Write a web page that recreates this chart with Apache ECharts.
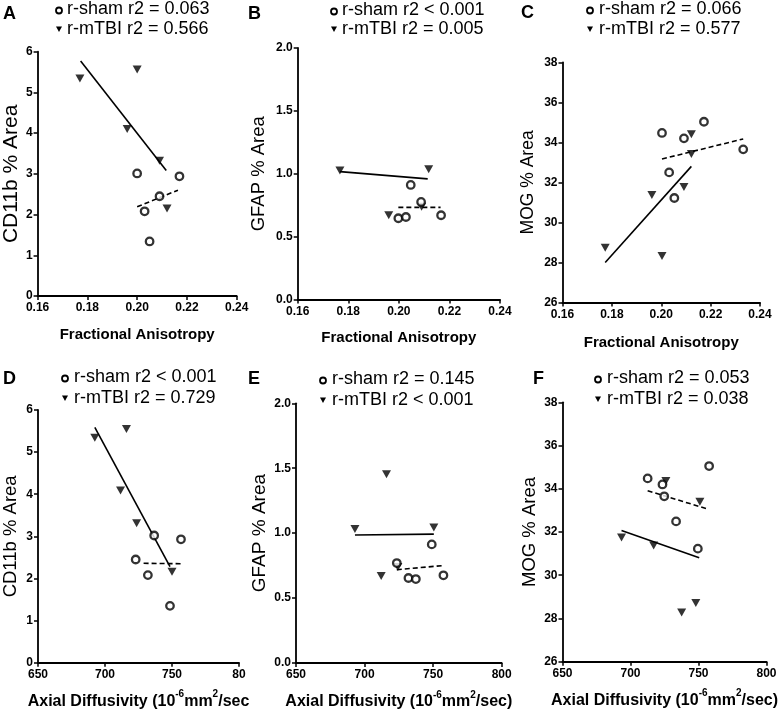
<!DOCTYPE html>
<html>
<head>
<meta charset="utf-8">
<script src="https://cdn.jsdelivr.net/npm/echarts@6/dist/echarts.min.js"></script>
<style>
html,body{margin:0;padding:0;background:#fff;}
#chart{width:780px;height:713px;}
</style>
</head>
<body>
<div id="chart"></div>
<script>
// ---------- tick labels ----------
const faTicks = ['0.16', '0.18', '0.20', '0.22', '0.24'];
const adTicks = ['650', '700', '750', '800'];
const adTicksD = ['650', '700', '750', '80'];
const cd11bTicks = ['0', '1', '2', '3', '4', '5', '6'];
const gfapTicks = ['0.0', '0.5', '1.0', '1.5', '2.0'];
const mogTicks = ['26', '28', '30', '32', '34', '36', '38'];

// ---------- panel texts ----------
const panelLetters = ['A', 'B', 'C', 'D', 'E', 'F'];
const shamLegend = ['r-sham r2 = 0.063', 'r-sham r2 < 0.001', 'r-sham r2 = 0.066', 'r-sham r2 < 0.001', 'r-sham r2 = 0.145', 'r-sham r2 = 0.053'];
const tbiLegend = ['r-mTBI r2 = 0.566', 'r-mTBI r2 = 0.005', 'r-mTBI r2 = 0.577', 'r-mTBI r2 = 0.729', 'r-mTBI r2 < 0.001', 'r-mTBI r2 = 0.038'];
const yNames = ['CD11b % Area', 'GFAP % Area', 'MOG % Area', 'CD11b % Area', 'GFAP % Area', 'MOG % Area'];

// ---------- data: A (FA vs CD11b) ----------
const shamFA_A = [0.200, 0.217, 0.209, 0.203, 0.205];
const shamCD11b_A = [3.01, 2.94, 2.45, 2.08, 1.34];
const tbiFA_A = [0.177, 0.200, 0.196, 0.209, 0.212];
const tbiCD11b_A = [5.34, 5.56, 4.10, 3.32, 2.15];
const tbiFitX_A = [0.1773, 0.2117];
const tbiFitY_A = [5.77, 3.08];
const shamFitX_A = [0.200, 0.2164];
const shamFitY_A = [2.19, 2.60];

// ---------- data: B (FA vs GFAP) ----------
const shamFA_B = [0.2047, 0.2088, 0.1998, 0.2028, 0.2167];
const shamGFAP_B = [0.911, 0.776, 0.646, 0.656, 0.670];
const tbiFA_B = [0.1767, 0.2118, 0.196, 0.209];
const tbiGFAP_B = [1.025, 1.036, 0.670, 0.738];
const tbiFitX_B = [0.1767, 0.2114];
const tbiFitY_B = [1.017, 0.959];
const shamFitX_B = [0.1998, 0.2165];
const shamFitY_B = [0.733, 0.733];

// ---------- data: C (FA vs MOG) ----------
const shamFA_C = [0.2003, 0.2092, 0.2173, 0.2332, 0.2032, 0.2053];
const shamMOG_C = [34.47, 34.20, 35.03, 33.65, 32.50, 31.22];
const tbiFA_C = [0.1773, 0.1962, 0.2003, 0.2092, 0.2122, 0.2122];
const tbiMOG_C = [28.73, 31.37, 28.32, 31.77, 34.40, 33.42];
const tbiFitX_C = [0.1773, 0.2122];
const tbiFitY_C = [28.00, 32.80];
const shamFitX_C = [0.2003, 0.2332];
const shamFitY_C = [33.17, 34.17];

// ---------- data: D (AD vs CD11b) ----------
const shamAD_D = [736.7, 756.7, 722.9, 732.0, 748.5];
const shamCD11b_D = [3.02, 2.93, 2.45, 2.08, 1.35];
const tbiAD_D = [692.4, 716.0, 711.6, 723.6, 750.0];
const tbiCD11b_D = [5.34, 5.55, 4.09, 3.31, 2.16];
const tbiFitX_D = [692.4, 748.5];
const tbiFitY_D = [5.59, 2.28];
const shamFitX_D = [728.8, 756.4];
const shamFitY_D = [2.36, 2.35];

// ---------- data: E (AD vs GFAP) ----------
const shamAD_E = [749.0, 723.5, 732.0, 737.4, 757.5];
const shamGFAP_E = [0.913, 0.769, 0.654, 0.646, 0.675];
const tbiAD_E = [693.0, 716.0, 750.5, 712.1, 724.3];
const tbiGFAP_E = [1.031, 1.454, 1.044, 0.669, 0.738];
const tbiFitX_E = [693.0, 750.5];
const tbiFitY_E = [0.985, 0.992];
const shamFitX_E = [723.5, 756.3];
const shamFitY_E = [0.718, 0.749];

// ---------- data: F (AD vs MOG) ----------
const shamAD_F = [712.6, 723.5, 724.8, 757.8, 733.5, 749.5];
const shamMOG_F = [34.48, 34.20, 33.65, 35.05, 32.49, 31.23];
const tbiAD_F = [693.4, 717.0, 726.0, 751.0, 737.6, 748.0];
const tbiMOG_F = [31.75, 31.38, 34.36, 33.40, 28.28, 28.71];
const tbiFitX_F = [693.4, 750.5];
const tbiFitY_F = [32.07, 30.81];
const shamFitX_F = [712.6, 755.8];
const shamFitY_F = [33.91, 33.08];

// ---------- layout ----------
const FONT = "'Liberation Sans', Arial, Helvetica, sans-serif";
const zip = (xs, ys) => xs.map((x, i) => [x, ys[i]]);

const panels = [
  { grid: { left: 36.7, top: 51.7, width: 200, height: 244.3 },
    x: { min: 0.16, max: 0.24, interval: 0.02, ticks: faTicks, name: 'fa', gap: 31 },
    y: { min: 0, max: 6, interval: 1, ticks: cd11bTicks, gap: 15, fs: 21 },
    sham: zip(shamFA_A, shamCD11b_A), tbi: zip(tbiFA_A, tbiCD11b_A),
    shamFit: zip(shamFitX_A, shamFitY_A), tbiFit: zip(tbiFitX_A, tbiFitY_A),
    letter: [3, 5], leg: { mx: 59, tx: 67, y1: 9, y2: 29 } },
  { grid: { left: 297.7, top: 48, width: 202.3, height: 251.5 },
    x: { min: 0.16, max: 0.24, interval: 0.02, ticks: faTicks, name: 'fa', gap: 31 },
    y: { min: 0, max: 2, interval: 0.5, ticks: gfapTicks, gap: 29, fs: 18.5 },
    sham: zip(shamFA_B, shamGFAP_B), tbi: zip(tbiFA_B, tbiGFAP_B),
    shamFit: zip(shamFitX_B, shamFitY_B), tbiFit: zip(tbiFitX_B, tbiFitY_B),
    letter: [248, 5], leg: { mx: 334, tx: 342, y1: 10, y2: 29 } },
  { grid: { left: 562.5, top: 62.3, width: 197.5, height: 240.2 },
    x: { min: 0.16, max: 0.24, interval: 0.02, ticks: faTicks, name: 'fa', gap: 33 },
    y: { min: 26, max: 38, interval: 2, ticks: mogTicks, gap: 25, fs: 17.5 },
    sham: zip(shamFA_C, shamMOG_C), tbi: zip(tbiFA_C, tbiMOG_C),
    shamFit: zip(shamFitX_C, shamFitY_C), tbiFit: zip(tbiFitX_C, tbiFitY_C),
    letter: [521, 4], leg: { mx: 590, tx: 599, y1: 9, y2: 29 } },
  { grid: { left: 36.5, top: 410, width: 202.5, height: 252.7 },
    x: { min: 650, max: 800, interval: 50, ticks: adTicksD, name: 'adD', gap: 27 },
    y: { min: 0, max: 6, interval: 1, ticks: cd11bTicks, gap: 18, fs: 18.5 },
    sham: zip(shamAD_D, shamCD11b_D), tbi: zip(tbiAD_D, tbiCD11b_D),
    shamFit: zip(shamFitX_D, shamFitY_D), tbiFit: zip(tbiFitX_D, tbiFitY_D),
    letter: [3, 370], leg: { mx: 65, tx: 74, y1: 377, y2: 398 } },
  { grid: { left: 296, top: 403.3, width: 205.7, height: 259.6 },
    x: { min: 650, max: 800, interval: 50, ticks: adTicks, name: 'ad', gap: 27 },
    y: { min: 0, max: 2, interval: 0.5, ticks: gfapTicks, gap: 27, fs: 19 },
    sham: zip(shamAD_E, shamGFAP_E), tbi: zip(tbiAD_E, tbiGFAP_E),
    shamFit: zip(shamFitX_E, shamFitY_E), tbiFit: zip(tbiFitX_E, tbiFitY_E),
    letter: [248, 370], leg: { mx: 323, tx: 332, y1: 379, y2: 400 } },
  { grid: { left: 562.5, top: 402.3, width: 206.5, height: 259.4 },
    x: { min: 650, max: 800, interval: 50, ticks: adTicks, name: 'ad', gap: 27 },
    y: { min: 26, max: 38, interval: 2, ticks: mogTicks, gap: 23, fs: 18.5 },
    sham: zip(shamAD_F, shamMOG_F), tbi: zip(tbiAD_F, tbiMOG_F),
    shamFit: zip(shamFitX_F, shamFitY_F), tbiFit: zip(tbiFitX_F, tbiFitY_F),
    letter: [533, 370], leg: { mx: 598, tx: 607, y1: 378, y2: 399 } }
];

const rich = {
  a: { fontFamily: FONT, fontWeight: 'bold', fontSize: 16, lineHeight: 20, color: '#000', verticalAlign: 'bottom' },
  s: { fontFamily: FONT, fontWeight: 'bold', fontSize: 10, lineHeight: 12, color: '#000', verticalAlign: 'top' }
};
const xNameText = {
  fa: 'Fractional Anisotropy',
  ad: '{a|Axial Diffusivity (10}{s|-6}{a|mm}{s|2}{a|/sec)}',
  adD: '{a|Axial Diffusivity (10}{s|-6}{a|mm}{s|2}{a|/sec}'
};

const axisLineStyle = { color: '#000', width: 1.8 };
const grids = [], xAxes = [], yAxes = [], series = [], graphics = [];

panels.forEach((p, i) => {
  grids.push(Object.assign({ containLabel: false }, p.grid));
  const xt = p.x.ticks, yt = p.y.ticks;
  xAxes.push({
    type: 'value', gridIndex: i, min: p.x.min, max: p.x.max, interval: p.x.interval,
    axisLine: { show: true, lineStyle: axisLineStyle },
    axisTick: { show: true, length: 4, lineStyle: { color: '#000', width: 1.5 } },
    splitLine: { show: false },
    axisLabel: { color: '#000', fontFamily: FONT, fontWeight: 'bold', fontSize: 12, margin: 6,
      formatter: v => xt[Math.round((v - p.x.min) / p.x.interval)] },
    name: xNameText[p.x.name], nameLocation: 'middle', nameGap: p.x.gap,
    nameTextStyle: p.x.name === 'fa'
      ? { fontFamily: FONT, fontWeight: 'bold', fontSize: 15, color: '#000' }
      : { rich: rich }
  });
  yAxes.push({
    type: 'value', gridIndex: i, min: p.y.min, max: p.y.max, interval: p.y.interval,
    axisLine: { show: true, lineStyle: axisLineStyle },
    axisTick: { show: true, length: 4, lineStyle: { color: '#000', width: 1.5 } },
    splitLine: { show: false },
    axisLabel: { color: '#000', fontFamily: FONT, fontWeight: 'bold', fontSize: 12, margin: 5,
      formatter: v => yt[Math.round((v - p.y.min) / p.y.interval)] },
    name: yNames[i], nameLocation: 'middle', nameGap: p.y.gap, nameRotate: 90,
    nameTextStyle: { fontFamily: FONT, fontSize: p.y.fs, color: '#000' }
  });
  series.push({
    type: 'line', xAxisIndex: i, yAxisIndex: i, data: p.tbiFit, symbol: 'none',
    lineStyle: { color: '#000', width: 1.6 }, silent: true, z: 2
  });
  series.push({
    type: 'line', xAxisIndex: i, yAxisIndex: i, data: p.shamFit, symbol: 'none',
    lineStyle: { color: '#000', width: 1.6, type: [5, 3] }, silent: true, z: 2
  });
  series.push({
    type: 'scatter', xAxisIndex: i, yAxisIndex: i, data: p.tbi, symbol: 'triangle',
    symbolRotate: 180, symbolSize: [9, 8], itemStyle: { color: '#000' }, z: 3
  });
  series.push({
    type: 'scatter', xAxisIndex: i, yAxisIndex: i, data: p.sham, symbol: 'circle',
    symbolSize: 7.5, itemStyle: { color: '#fff', borderColor: '#000', borderWidth: 2.3 }, z: 4
  });
  // panel letter
  graphics.push({ type: 'text', left: p.letter[0], top: p.letter[1],
    style: { text: panelLetters[i], fontFamily: FONT, fontWeight: 'bold', fontSize: 18, fill: '#000' } });
  // legend
  const L = p.leg;
  graphics.push({ type: 'circle', shape: { cx: L.mx, cy: L.y1 + 1.5, r: 3 },
    style: { fill: '#fff', stroke: '#000', lineWidth: 1.8 } });
  graphics.push({ type: 'polygon', shape: { points: [[L.mx - 3, L.y2 - 2.5], [L.mx + 3, L.y2 - 2.5], [L.mx, L.y2 + 3]] },
    style: { fill: '#000' } });
  graphics.push({ type: 'text', x: L.tx, y: L.y1,
    style: { text: shamLegend[i], fontFamily: FONT, fontSize: 18, fill: '#000', textVerticalAlign: 'middle', verticalAlign: 'middle' } });
  graphics.push({ type: 'text', x: L.tx, y: L.y2,
    style: { text: tbiLegend[i], fontFamily: FONT, fontSize: 18, fill: '#000', textVerticalAlign: 'middle', verticalAlign: 'middle' } });
});

const chart = echarts.init(document.getElementById('chart'), null, { renderer: 'canvas' });
chart.setOption({
  animation: false,
  backgroundColor: '#fff',
  grid: grids, xAxis: xAxes, yAxis: yAxes, series: series,
  graphic: { elements: graphics }
});
</script>
</body>
</html>
